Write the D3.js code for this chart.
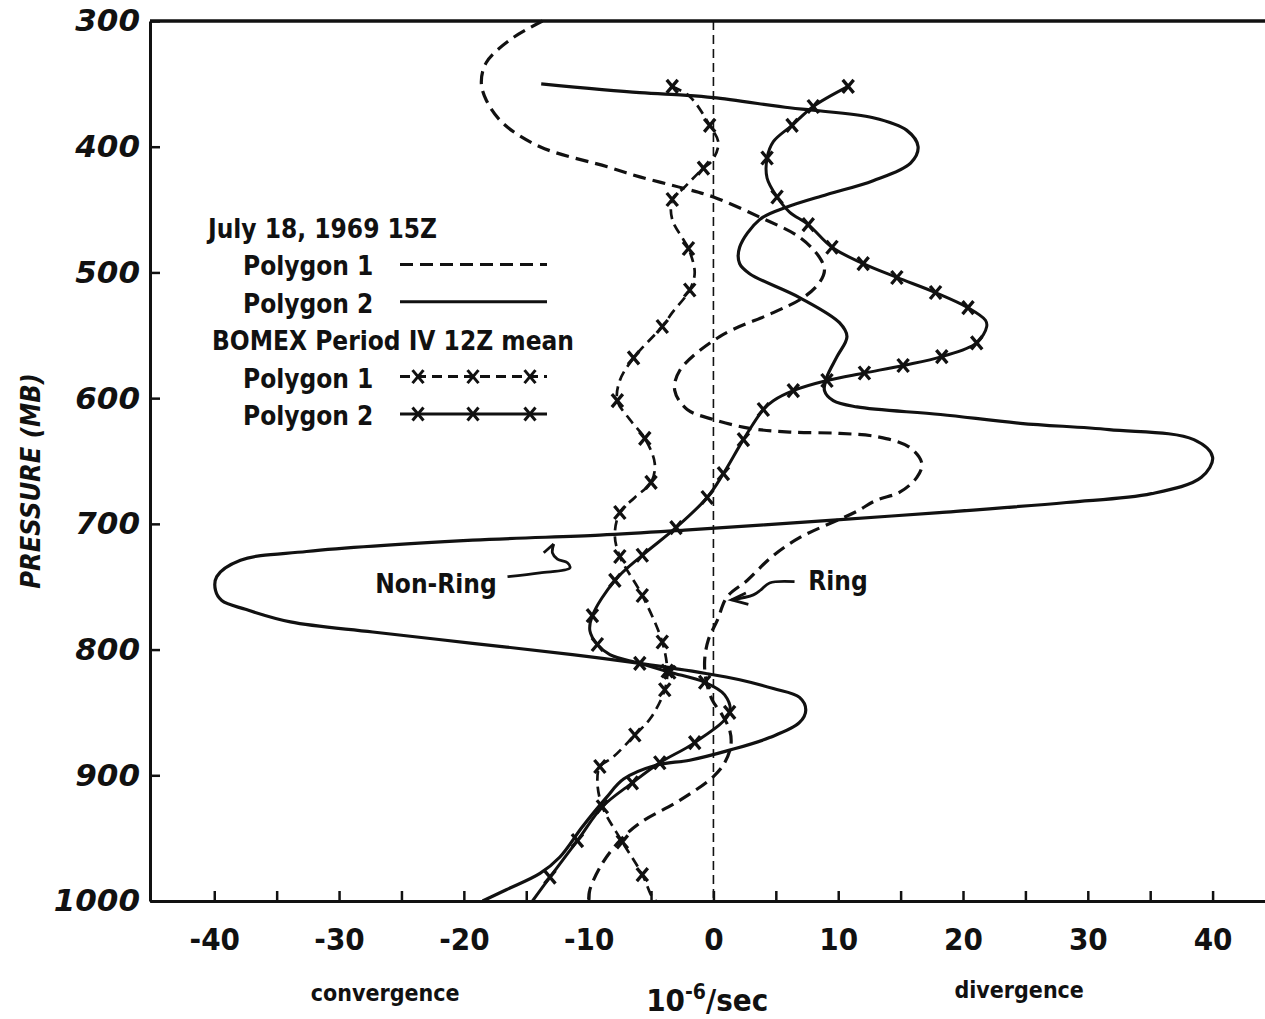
<!DOCTYPE html>
<html>
<head>
<meta charset="utf-8">
<script src="https://cdn.jsdelivr.net/npm/d3@7"></script>
<style>
  body { margin: 0; background: #fff; }
  svg { display: block; }
  text {
    font-family: "DejaVu Sans Condensed", "DejaVu Sans", sans-serif;
    font-stretch: condensed;
    font-weight: bold;
    fill: #111;
  }
</style>
</head>
<body>
<div id="chart"></div>
<script>
// Divergence (10^-6/sec) against pressure (mb) as [value, pressure]
const ringTrace = [
  [-13.7, 300], [-16.3, 315], [-18.2, 333], [-18.6, 349], [-18.2, 363], [-16.9, 381],
  [-13.9, 400], [-8.5, 416], [-5.9, 424], [-2.4, 433], [0, 440], [3.7, 456], [6.9, 472],
  [8.5, 488], [8.9, 498], [8.5, 508], [7.2, 520], [4.8, 532], [0.5, 551], [-2.7, 578],
  [-3.1, 594], [-2.1, 609], [0, 617], [2.9, 624], [6.1, 627], [10.1, 628], [13.3, 631],
  [15.7, 639], [16.7, 652], [16.3, 663], [14.9, 675], [13.1, 681], [11.3, 691], [6.9, 711],
  [4.7, 726], [2.7, 745], [1.1, 758], [0.3, 777], [-0.4, 792], [-0.7, 808], [-0.6, 824],
  [-0.1, 840], [0.7, 852], [1.3, 864], [1.4, 876], [0.9, 890], [0, 901], [-2.7, 920],
  [-5.9, 938], [-7.5, 952], [-8.9, 970], [-9.9, 991], [-10, 1000]
];

const nonRingTrace = [
  [-13.8, 350], [-5.9, 357], [-2.4, 359], [0, 361], [6.1, 369], [8.0, 371], [12.8, 377],
  [15.5, 387], [16.4, 400], [15.8, 413], [12.8, 427], [9.1, 438], [5.9, 448], [3.7, 458],
  [2.1, 480], [2.1, 493], [2.9, 501], [6.9, 520], [10.1, 540], [10.7, 551], [9.9, 567],
  [9.1, 583], [8.9, 594], [9.6, 602], [11.5, 607], [18.2, 613], [24.6, 620], [31.7, 625],
  [38.5, 633], [40.0, 647], [39.1, 663], [35.1, 676], [28.3, 683], [18.1, 691], [9.6, 697],
  [-2.3, 705], [-9.1, 709], [-19.3, 713], [-32.6, 722], [-37.9, 729], [-39.8, 742],
  [-39.9, 753], [-39.4, 761], [-37.5, 768], [-33.9, 778], [-27.3, 786], [-19.3, 795],
  [-11.3, 804], [-5.9, 811], [-0.6, 819], [2.1, 824], [4.8, 831], [6.9, 838], [7.4, 848],
  [6.9, 858], [4.5, 870], [1.3, 880], [-1.9, 888], [-4.6, 892], [-7.2, 903], [-8.6, 918],
  [-10.5, 941], [-12.3, 965], [-13.9, 978], [-16.6, 991], [-18.5, 1000]
];

const bomex1Trace = [
  [-3.3, 352], [-1.9, 360], [-0.3, 383], [0.4, 397], [-0.1, 411], [-0.8, 417], [-2.4, 433],
  [-3.3, 442], [-3.3, 458], [-2.4, 474], [-2.0, 481], [-1.5, 500], [-1.9, 514], [-3.3, 532],
  [-4.1, 543], [-6.4, 568], [-7.5, 586], [-7.7, 602], [-6.7, 617], [-5.5, 632], [-4.7, 652],
  [-5.0, 667], [-6.3, 679], [-7.5, 691], [-7.9, 709], [-7.5, 726], [-5.7, 757], [-4.1, 794],
  [-3.7, 817], [-3.9, 832], [-5.0, 854], [-6.3, 868], [-8.1, 886], [-9.1, 893], [-9.3, 905],
  [-8.9, 925], [-7.3, 953], [-5.7, 979], [-4.9, 997], [-4.6, 1000]
];

const bomex1Marks = [
  [-3.3, 352], [-0.3, 383], [-0.8, 417], [-3.3, 442], [-2.0, 481], [-1.9, 514], [-4.1, 543],
  [-6.4, 568], [-7.7, 602], [-5.5, 632], [-5.0, 667], [-7.5, 691], [-7.5, 726], [-5.7, 757],
  [-4.1, 794], [-3.7, 817], [-3.9, 832], [-6.3, 868], [-9.1, 893], [-7.3, 953], [-5.7, 979]
];

const bomex2Trace = [
  [10.8, 352], [8.0, 368], [6.3, 383], [4.8, 396], [4.3, 409], [4.3, 425], [5.1, 440],
  [6.1, 452], [7.6, 462], [9.5, 480], [12.0, 493], [14.7, 504], [17.8, 516], [20.4, 528],
  [21.8, 538], [21.9, 543], [21.1, 556], [18.3, 567], [15.2, 574], [12.1, 580], [9.1, 586],
  [6.4, 594], [4.8, 602], [4.0, 609], [2.4, 633], [0.8, 660], [-0.5, 679], [-3.0, 703],
  [-5.7, 725], [-7.9, 745], [-9.7, 773], [-9.9, 785], [-9.3, 796], [-8.3, 804], [-5.9, 811],
  [-3.5, 818], [-0.7, 826], [0.9, 836], [1.3, 850], [-1.5, 874], [-4.3, 890], [-6.5, 906],
  [-8.9, 925], [-10.9, 952], [-13.1, 981], [-14.5, 1000]
];

const bomex2Marks = [
  [10.8, 352], [8.0, 368], [6.3, 383], [4.3, 409], [5.1, 440], [7.6, 462], [9.5, 480],
  [12.0, 493], [14.7, 504], [17.8, 516], [20.4, 528], [21.1, 556], [18.3, 567], [15.2, 574],
  [12.1, 580], [9.1, 586], [6.4, 594], [4.0, 609], [2.4, 633], [0.8, 660], [-0.5, 679],
  [-3.0, 703], [-5.7, 725], [-7.9, 745], [-9.7, 773], [-9.3, 796], [-5.9, 811], [-3.5, 818],
  [-0.7, 826], [1.3, 850], [-1.5, 874], [-4.3, 890], [-6.5, 906], [-8.9, 925], [-10.9, 952],
  [-13.1, 981]
];

// annotation arrows, same units
const nonRingArrow = [
  [-16.5, 742], [-13.9, 739], [-11.5, 735], [-11.7, 731], [-12.5, 728], [-12.9, 723], [-12.8, 716]
];
const nonRingHook = [[-12.8, 716], [-13.6, 723]];
const ringArrow = [[6.5, 746], [4.5, 747], [3.8, 752.5], [3.2, 756.5], [1.45, 760.5]];
const ringArrowHead = [[2.6, 755], [1.45, 760.5], [2.8, 764]];

const pressureTicks = [300, 400, 500, 600, 700, 800, 900, 1000];
const divergenceTicks = [-40, -35, -30, -25, -20, -15, -10, -5, 0, 5, 10, 15, 20, 25, 30, 35, 40];

// Set up dimensions
const margin = { top: 21, right: 0, bottom: 118, left: 150 },
  width = 1265 - margin.left - margin.right,
  height = 1019 - margin.top - margin.bottom;

const svg = d3
  .select("#chart")
  .append("svg")
  .attr("width", width + margin.left + margin.right)
  .attr("height", height + margin.top + margin.bottom)
  .append("g")
  .attr("transform", "translate(" + margin.left + "," + margin.top + ")");

// Scales: pressure increases downward
const x = d3.scaleLinear().domain([-45.15, 44.2]).range([0, width]);
const y = d3.scaleLinear().domain([300, 1000]).range([0, height]);

const line = d3
  .line()
  .x((d) => x(d[0]))
  .y((d) => y(d[1]))
  .curve(d3.curveCatmullRom.alpha(0.5));

const straight = d3
  .line()
  .x((d) => x(d[0]))
  .y((d) => y(d[1]));

// zero line
svg
  .append("line")
  .attr("x1", x(0))
  .attr("x2", x(0))
  .attr("y1", y(300))
  .attr("y2", y(1000))
  .attr("stroke", "#111")
  .attr("stroke-width", 1.6)
  .attr("stroke-dasharray", "9,5");

// top frame
svg
  .append("line")
  .attr("x1", 0)
  .attr("x2", width)
  .attr("y1", y(300))
  .attr("y2", y(300))
  .attr("stroke", "#111")
  .attr("stroke-width", 3.5);

// Axes with inward ticks
const yAxis = svg
  .append("g")
  .attr("class", "y-axis")
  .call(
    d3
      .axisLeft(y)
      .tickValues(pressureTicks)
      .tickSize(-10)
      .tickSizeOuter(0)
      .tickPadding(10)
      .tickFormat(d3.format("d"))
  );

const xAxis = svg
  .append("g")
  .attr("class", "x-axis")
  .attr("transform", "translate(0," + height + ")")
  .call(
    d3
      .axisBottom(x)
      .tickValues(divergenceTicks)
      .tickSize(-10)
      .tickSizeOuter(0)
      .tickPadding(27)
      .tickFormat((d) => (d % 10 === 0 ? String(d) : ""))
  );

svg.selectAll(".domain").attr("stroke", "#111").attr("stroke-width", 3);
svg.selectAll(".tick line").attr("stroke", "#111").attr("stroke-width", 2.5);

yAxis
  .selectAll("text")
  .style("font-family", '"DejaVu Sans", sans-serif')
  .style("font-stretch", "normal")
  .style("font-style", "italic")
  .style("font-size", "31px")
  .attr("fill", "#111");

xAxis.selectAll("text").style("font-size", "31px").attr("fill", "#111");

// Axis titles
svg
  .append("text")
  .attr("transform", "translate(" + (-110) + "," + 460 + ") rotate(-90)")
  .attr("text-anchor", "middle")
  .style("font-style", "italic")
  .style("font-size", "27px")
  .text("PRESSURE (MB)");

svg
  .append("text")
  .attr("x", x(-26.3))
  .attr("y", 1001 - margin.top)
  .attr("text-anchor", "middle")
  .style("font-size", "23px")
  .text("convergence");

svg
  .append("text")
  .attr("x", x(24.5))
  .attr("y", 998 - margin.top)
  .attr("text-anchor", "middle")
  .style("font-size", "23px")
  .text("divergence");

const unit = svg
  .append("text")
  .attr("x", x(-0.5))
  .attr("y", 1011 - margin.top)
  .attr("text-anchor", "middle")
  .style("font-size", "31px");
unit.append("tspan").text("10");
unit.append("tspan").attr("dy", -12).style("font-size", "21px").text("-6");
unit.append("tspan").attr("dy", 12).text("/sec");

// Curves
const series = [
  { data: ringTrace, dash: "13,7", width: 3.2 },
  { data: nonRingTrace, dash: null, width: 3.2 },
  { data: bomex1Trace, dash: "10,6", width: 2.7 },
  { data: bomex2Trace, dash: null, width: 3 },
];

series.forEach((s) => {
  svg
    .append("path")
    .datum(s.data)
    .attr("d", line)
    .attr("fill", "none")
    .attr("stroke", "#111")
    .attr("stroke-width", s.width)
    .attr("stroke-dasharray", s.dash);
});

// x markers
const markPath = "M-5.5,-6.5L5.5,6.5M-5.5,6.5L5.5,-6.5";
svg
  .selectAll(".mark")
  .data(bomex1Marks.concat(bomex2Marks))
  .join("path")
  .attr("class", "mark")
  .attr("transform", (d) => `translate(${x(d[0])},${y(d[1])})`)
  .attr("d", markPath)
  .attr("stroke", "#111")
  .attr("stroke-width", 3.3);

// Annotations
[nonRingArrow, ringArrow].forEach((a) => {
  svg
    .append("path")
    .datum(a)
    .attr("d", line)
    .attr("fill", "none")
    .attr("stroke", "#111")
    .attr("stroke-width", 2.8);
});
[nonRingHook, ringArrowHead].forEach((a) => {
  svg
    .append("path")
    .datum(a)
    .attr("d", straight)
    .attr("fill", "none")
    .attr("stroke", "#111")
    .attr("stroke-width", 2.8);
});

svg
  .append("text")
  .attr("x", x(-27.1))
  .attr("y", y(755))
  .style("font-size", "26px")
  .text("Non-Ring");

svg
  .append("text")
  .attr("x", x(7.6))
  .attr("y", y(752.5))
  .style("font-size", "26px")
  .text("Ring");

// Legend
const legendItems = [
  { label: "July 18, 1969 15Z", indent: 58, row: 0 },
  { label: "Polygon 1", indent: 93, row: 1, dash: "13,7", marks: false },
  { label: "Polygon 2", indent: 93, row: 2, dash: null, marks: false },
  { label: "BOMEX Period IV 12Z mean", indent: 62, row: 3 },
  { label: "Polygon 1", indent: 93, row: 4, dash: "10,6", marks: true },
  { label: "Polygon 2", indent: 93, row: 5, dash: null, marks: true },
];

const legend = svg.append("g").attr("transform", "translate(0," + (238 - margin.top) + ")");

legendItems.forEach((item) => {
  const yy = item.row * 37.4;
  legend
    .append("text")
    .attr("x", item.indent)
    .attr("y", yy)
    .style("font-size", "26px")
    .text(item.label);
  if (item.dash === undefined) return;
  legend
    .append("line")
    .attr("x1", 250)
    .attr("x2", 397)
    .attr("y1", yy - 11)
    .attr("y2", yy - 11)
    .attr("stroke", "#111")
    .attr("stroke-width", 3)
    .attr("stroke-dasharray", item.dash);
  if (item.marks) {
    [268, 323, 380].forEach((mx) => {
      legend
        .append("path")
        .attr("transform", `translate(${mx},${yy - 11})`)
        .attr("d", markPath)
        .attr("stroke", "#111")
        .attr("stroke-width", 3);
    });
  }
});
</script>
</body>
</html>
